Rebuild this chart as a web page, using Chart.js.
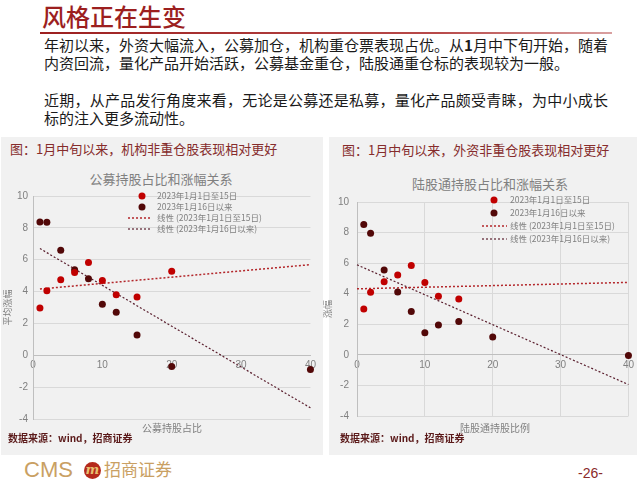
<!DOCTYPE html>
<html>
<head>
<meta charset="utf-8">
<script src="https://cdn.jsdelivr.net/npm/chart.js@4.4.1/dist/chart.umd.min.js"></script>
<style>
  body { margin: 0; width: 640px; height: 480px; background: #fff; position: relative; overflow: hidden;
         font-family: "Noto Sans CJK SC", sans-serif; }
  .abs { position: absolute; white-space: nowrap; }
  .panel { position: absolute; background: #f1f1f1; }
  .line { font-size: 15px; line-height: 18px; color: #1a1a1a; }
  .ptitle { font-size: 13px; line-height: 16px; color: #862c2c; }
  .ctitle { font-size: 13px; line-height: 16px; color: #808080; text-align: center; }
  .xtitle { font-size: 10px; line-height: 12px; color: #808080; text-align: center; }
  .src { font-size: 10px; line-height: 12px; color: #5b1a1a; font-weight: bold; }
  canvas { position: absolute; }
</style>
</head>
<body>
<div class="abs" style="left:42px;top:2px;font-size:24px;line-height:28px;color:#9c1f1f;font-weight:500;">风格正在生变</div>
<div class="abs" style="left:40px;top:32px;width:572px;height:2px;background:linear-gradient(90deg,#9c1f1f,#b84a4a 70%,#d9a0a0);"></div>

<div class="abs line" style="left:44px;top:36px;width:564px;text-align:justify;text-align-last:justify;">年初以来，外资大幅流入，公募加仓，机构重仓票表现占优。从<b>1</b>月中下旬开始，随着</div>
<div class="abs line" style="left:44px;top:54px;">内资回流，量化产品开始活跃，公募基金重仓，陆股通重仓标的表现较为一般。</div>
<div class="abs line" style="left:44px;top:91px;width:564px;text-align:justify;text-align-last:justify;">近期，从产品发行角度来看，无论是公募还是私募，量化产品颇受青睐，为中小成长</div>
<div class="abs line" style="left:44px;top:109px;">标的注入更多流动性。</div>

<div class="panel" style="left:1px;top:137px;width:322px;height:318px;"></div>
<div class="panel" style="left:329px;top:137px;width:308px;height:318px;"></div>

<div class="abs ptitle" style="left:10px;top:141px;">图：1月中旬以来，机构非重仓股表现相对更好</div>
<div class="abs ptitle" style="left:342px;top:142px;">图：1月中旬以来，外资非重仓股表现相对更好</div>

<div class="abs ctitle" style="left:61px;top:171px;width:200px;">公募持股占比和涨幅关系</div>
<div class="abs ctitle" style="left:390px;top:176px;width:200px;">陆股通持股占比和涨幅关系</div>

<canvas id="fundCanvas" width="318" height="245" style="left:2px;top:185px;"></canvas>
<canvas id="hkCanvas" width="316" height="242" style="left:322px;top:188px;"></canvas>

<div class="abs xtitle" style="left:112px;top:422px;width:120px;">公募持股占比</div>
<div class="abs xtitle" style="left:435px;top:422px;width:120px;">陆股通持股比例</div>

<div class="abs src" style="left:8px;top:432px;">数据来源：wind，招商证券</div>
<div class="abs src" style="left:340px;top:432px;">数据来源：wind，招商证券</div>

<div class="abs" style="left:24px;top:458px;font-size:22px;line-height:24px;color:#c9a063;font-family:'Liberation Sans',sans-serif;">CMS</div>
<div class="abs" style="left:84px;top:462px;width:17px;height:17px;border-radius:50%;background:#b52a1c;color:#e8c070;font-size:13px;line-height:16px;text-align:center;font-style:italic;font-weight:bold;font-family:'DejaVu Serif',serif;">m</div>
<div class="abs" style="left:104px;top:458px;font-size:17px;line-height:22px;color:#c9a063;">招商证券</div>
<div class="abs" style="left:578px;top:464px;font-size:14px;line-height:18px;color:#8b2a2a;font-family:'Liberation Sans',sans-serif;">-26-</div>

<script>
// x positions (holding ratio) shared by both panels
const holdX = [1, 2, 4, 6, 8, 10, 12, 15, 20, 40];

// left: public fund holding ratio vs return
const fundEarly = [2.97, 4.05, 4.74, 5.2, 5.83, 4.7, 3.8, 3.66, 5.28, null];
const fundLate = [8.37, 8.35, 6.6, 5.37, 4.8, 3.2, 2.7, 1.28, -0.71, -0.9];
const fundTrendX = [1, 40];
const fundEarlyTrend = [4.16, 5.69];
const fundLateTrend = [6.7, -3.3];

// right: northbound holding ratio vs return
const hkEarly = [3.0, 4.09, 4.78, 5.22, 5.85, 4.74, 3.84, 3.65, null, null];
const hkLate = [8.52, 7.96, 5.55, 4.11, 2.84, 1.44, 1.96, 2.19, 1.17, -0.04];
const hkTrendX = [0, 40];
const hkEarlyTrend = [4.32, 4.74];
const hkLateTrend = [5.89, -1.94];

const legendLabels = ["2023年1月1日至15日", "2023年1月16日以来", "线性 (2023年1月1日至15日)", "线性 (2023年1月16日以来)"];
const yTicks = [-4, -2, 0, 2, 4, 6, 8, 10];

const RED = "#c00000";
const DARK = "#520808";

function pts(xs, ys) {
  return xs.map((x, i) => ({ x: x, y: ys[i] })).filter(p => p.y !== null);
}

// legend drawn inside the plot area
const insideLegend = {
  id: "insideLegend",
  afterDraw(chart, args, o) {
    const ctx = chart.ctx;
    ctx.save();
    ctx.font = "8.5px 'Noto Sans CJK SC'";
    ctx.textBaseline = "middle";
    chart.data.datasets.forEach((ds, i) => {
      const y = o.rows[i];
      if (ds.showLine) {
        ctx.strokeStyle = ds.borderColor;
        ctx.lineWidth = ds.borderWidth;
        ctx.setLineDash(ds.borderDash);
        ctx.beginPath();
        ctx.moveTo(o.lineX0, y);
        ctx.lineTo(o.lineX1, y);
        ctx.stroke();
        ctx.setLineDash([]);
      } else {
        ctx.fillStyle = ds.backgroundColor;
        ctx.beginPath();
        ctx.arc(o.markX, y, 3.5, 0, Math.PI * 2);
        ctx.fill();
      }
      ctx.fillStyle = "#808080";
      ctx.fillText(ds.label, o.textX, y);
    });
    ctx.restore();
  }
};

function makeChart(id, early, late, trendX, earlyTrend, lateTrend, opt) {
  return new Chart(document.getElementById(id), {
    type: "scatter",
    data: {
      datasets: [
        { label: legendLabels[0], data: pts(holdX, early), backgroundColor: RED, borderColor: RED,
          pointRadius: 3.5, pointBorderWidth: 0, clip: false },
        { label: legendLabels[1], data: pts(holdX, late), backgroundColor: DARK, borderColor: DARK,
          pointRadius: 3.5, pointBorderWidth: 0, clip: false },
        { label: legendLabels[2], data: pts(trendX, earlyTrend), showLine: true, borderColor: "#b3262a",
          borderWidth: 1.5, borderDash: [2, 2], pointRadius: 0, clip: false },
        { label: legendLabels[3], data: pts(trendX, lateTrend), showLine: true, borderColor: "#5a1f2e",
          borderWidth: 1.2, borderDash: [2, 2], pointRadius: 0, clip: false }
      ]
    },
    options: {
      responsive: false,
      animation: false,
      layout: { padding: opt.padding },
      plugins: { legend: { display: false }, tooltip: { enabled: false }, insideLegend: opt.legend },
      scales: {
        x: {
          type: "linear",
          position: { y: 0 },
          min: 0, max: 40,
          ticks: { stepSize: 10, padding: 4, color: "#808080", font: { family: "Liberation Sans", size: 10 } },
          grid: { display: opt.xGrid, color: "#d9d9d9", drawTicks: false },
          border: { display: true, color: "#bfbfbf" }
        },
        y: {
          min: -4, max: 10,
          afterBuildTicks: s => { s.ticks = yTicks.map(v => ({ value: v })); },
          afterFit: s => { s.width = opt.yWidth; },
          ticks: { padding: opt.tickPad, color: "#808080", font: { family: "Liberation Sans", size: 10 } },
          grid: { color: "#d9d9d9", drawTicks: false },
          border: { display: true, color: "#bfbfbf" },
          title: { display: true, text: opt.yTitle, color: "#808080", padding: 0,
                   font: { family: "Noto Sans CJK SC", size: 9 } }
        }
      }
    },
    plugins: [insideLegend]
  });
}

makeChart("fundCanvas", fundEarly, fundLate, fundTrendX, fundEarlyTrend, fundLateTrend, {
  padding: { left: 0, top: 7, right: 8, bottom: 9 },
  yWidth: 31, tickPad: 5, xGrid: false, yTitle: "平均涨幅",
  legend: { markX: 140, textX: 155, lineX0: 126, lineX1: 150, rows: [11, 22, 33, 44] }
});

makeChart("hkCanvas", hkEarly, hkLate, hkTrendX, hkEarlyTrend, hkLateTrend, {
  padding: { left: 0, top: 10, right: 5, bottom: 9 },
  yWidth: 35, tickPad: 8, xGrid: true, yTitle: "涨幅",
  legend: { markX: 172, textX: 188, lineX0: 160, lineX1: 185, rows: [12, 25, 38, 51] }
});
</script>
</body>
</html>
